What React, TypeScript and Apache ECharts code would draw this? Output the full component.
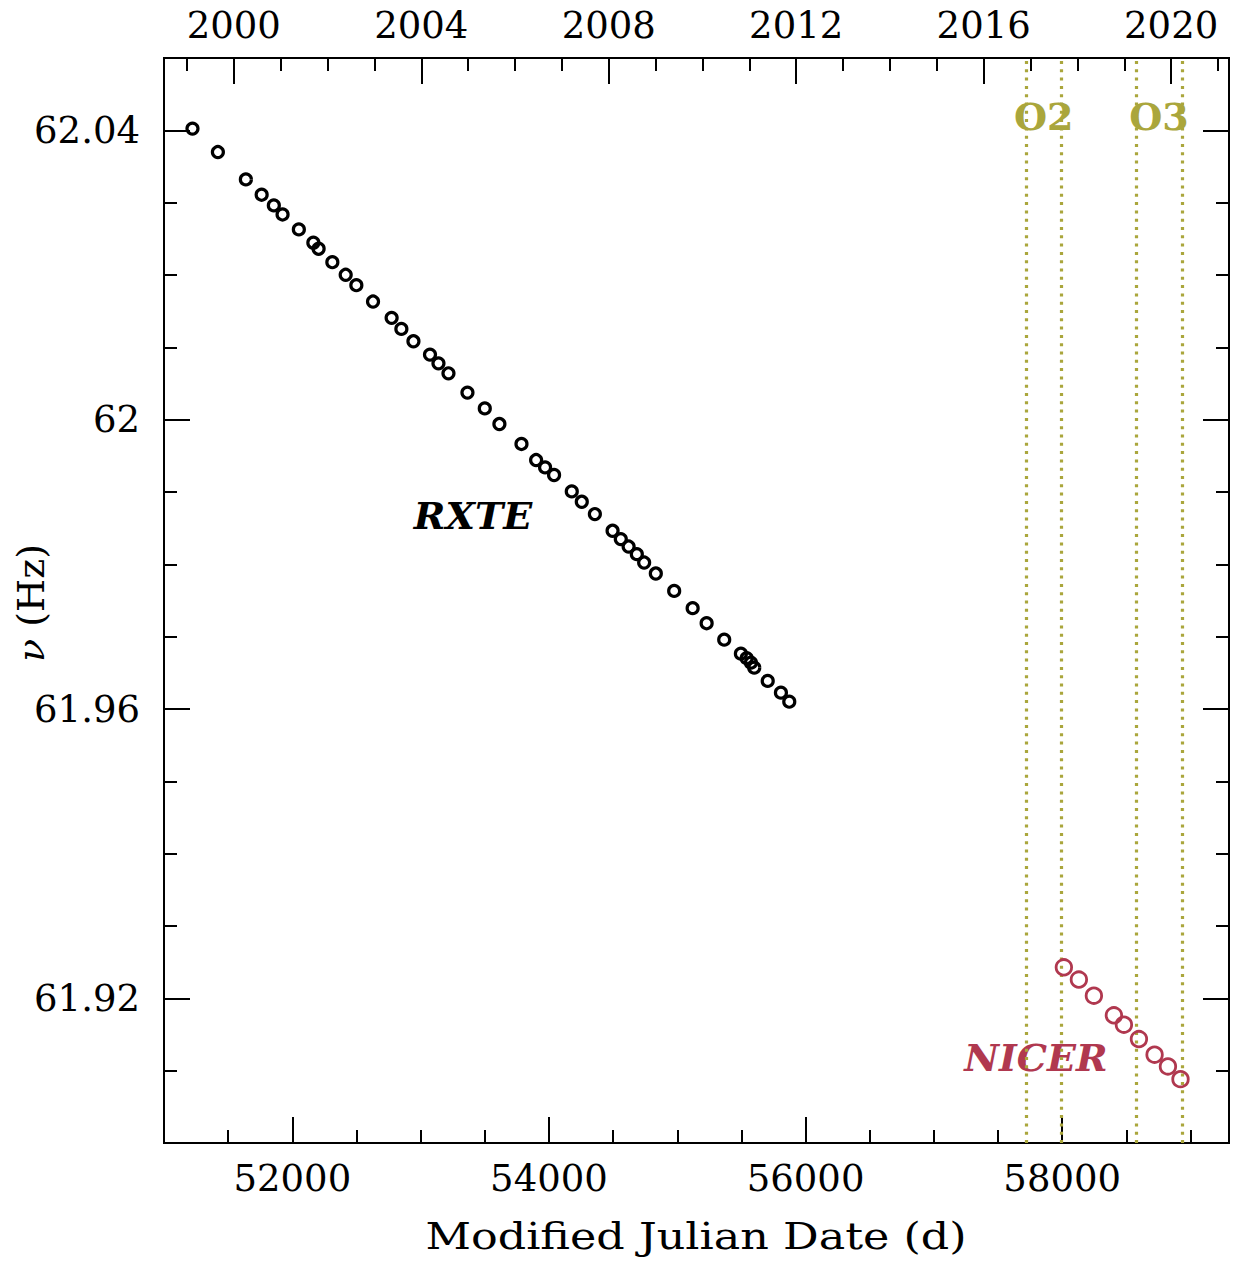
import React, { useEffect, useRef } from "react";
import * as echarts from "echarts";

const FONT = "DejaVu Serif";
const OLIVE = "#aaa63c";
const NICER_RED = "#b0384f";

const X_MIN = 51000;
const X_MAX = 59300;
const Y_MIN = 61.9;
const Y_MAX = 62.05;

const rxteMJD = [51222, 51420, 51638, 51761, 51856, 51924, 52051, 52164, 52205, 52312, 52416, 52499, 52629, 52774, 52850, 52944, 53073, 53139, 53217, 53365, 53500, 53614, 53786, 53900, 53970, 54040, 54178, 54256, 54358, 54496, 54560, 54621, 54685, 54742, 54833, 54976, 55120, 55229, 55366, 55496, 55541, 55574, 55600, 55705, 55808, 55873];
const rxteNu = [62.04024, 62.037, 62.03322, 62.0311, 62.02962, 62.02837, 62.0263, 62.02446, 62.02363, 62.02177, 62.02003, 62.01859, 62.01633, 62.01408, 62.01255, 62.01084, 62.009, 62.00779, 62.00641, 62.00374, 62.00156, 61.9994, 61.99664, 61.99442, 61.9934, 61.99235, 61.99008, 61.98865, 61.98695, 61.98464, 61.98349, 61.98246, 61.98141, 61.98025, 61.97873, 61.97633, 61.97394, 61.97186, 61.96959, 61.96765, 61.96702, 61.96641, 61.96572, 61.96388, 61.96226, 61.96101];

const nicerMJD = [58013, 58130, 58247, 58403, 58481, 58598, 58720, 58824, 58922];
const nicerNu = [61.92429, 61.92259, 61.92037, 61.91765, 61.91636, 61.91437, 61.91221, 61.91059, 61.90883];

const xMajorTicks = [52000, 54000, 56000, 58000];
const xMinorTicks = [51500, 52500, 53000, 53500, 54500, 55000, 55500, 56500, 57000, 57500, 58500, 59000];
const yMajorTicks = [61.92, 61.96, 62.0, 62.04];
const yMinorTicks = [61.91, 61.93, 61.94, 61.95, 61.97, 61.98, 61.99, 62.01, 62.02, 62.03];
const yearMajor = [2000, 2004, 2008, 2012, 2016, 2020];
const yearMinor = [1999, 2001, 2002, 2003, 2005, 2006, 2007, 2009, 2010, 2011, 2013, 2014, 2015, 2017, 2018, 2019, 2021];

const runNames = ["O2", "O3"];
const runStart = [57722, 58574];
const runEnd = [57990, 58935];

const mjdOfYear = (y: number) => Date.UTC(y, 0, 1) / 86400000 + 40587;
const yearOfMjd = (m: number) => Math.round(2000 + (m - 51544) / 365.25);

const MAJOR_LEN = 26;
const MINOR_LEN = 13;

function tickAxis(position: string, values: number[], len: number, min: number, max: number, extra: any = {}) {
  return {
    type: "value",
    position,
    min,
    max,
    axisLine: { show: false },
    axisTick: {
      show: true,
      inside: true,
      length: len,
      customValues: values,
      lineStyle: { color: "#000", width: 2 },
    },
    axisLabel: { show: false },
    splitLine: { show: false },
    ...extra,
  };
}

const labelStyle = { fontFamily: FONT, fontSize: 37, color: "#000" };

export default function App() {
  const ref = useRef<HTMLDivElement>(null);
  useEffect(() => {
    document.body.style.margin = "0";
    const chart = echarts.init(ref.current!, undefined, { renderer: "svg" });
    const rxte = rxteMJD.map((m, i) => [m, rxteNu[i]]);
    const nicer = nicerMJD.map((m, i) => [m, nicerNu[i]]);
    const option: any = {
      animation: false,
      backgroundColor: "#fff",
      grid: {
        left: 164,
        right: 12,
        top: 58,
        bottom: 120,
        show: true,
        borderColor: "#000",
        borderWidth: 2,
        backgroundColor: "transparent",
      },
      xAxis: [
        tickAxis("bottom", xMajorTicks, MAJOR_LEN, X_MIN, X_MAX, {
          axisLabel: {
            show: true,
            customValues: xMajorTicks,
            margin: 17,
            ...labelStyle,
            formatter: (v: number) => String(v),
          },
        }),
        tickAxis("bottom", xMinorTicks, MINOR_LEN, X_MIN, X_MAX),
        tickAxis("top", yearMajor.map(mjdOfYear), MAJOR_LEN, X_MIN, X_MAX, {
          axisLabel: {
            show: true,
            customValues: yearMajor.map(mjdOfYear),
            margin: 14,
            ...labelStyle,
            formatter: (v: number) => String(yearOfMjd(v)),
          },
        }),
        tickAxis("top", yearMinor.map(mjdOfYear), MINOR_LEN, X_MIN, X_MAX),
      ],
      yAxis: [
        tickAxis("left", yMajorTicks, MAJOR_LEN, Y_MIN, Y_MAX, {
          axisLabel: {
            show: true,
            customValues: yMajorTicks,
            margin: 24,
            ...labelStyle,
            formatter: (v: number) => String(+(+v).toFixed(2)),
          },
        }),
        tickAxis("left", yMinorTicks, MINOR_LEN, Y_MIN, Y_MAX),
        tickAxis("right", yMajorTicks, MAJOR_LEN, Y_MIN, Y_MAX),
        tickAxis("right", yMinorTicks, MINOR_LEN, Y_MIN, Y_MAX),
      ],
      series: [
        {
          name: "RXTE",
          type: "scatter",
          xAxisIndex: 0,
          yAxisIndex: 0,
          data: rxte,
          symbol: "circle",
          symbolSize: 11,
          itemStyle: { color: "rgba(0,0,0,0)", borderColor: "#000", borderWidth: 3.2, opacity: 1 },
          z: 5,
        },
        {
          name: "NICER",
          type: "scatter",
          xAxisIndex: 0,
          yAxisIndex: 0,
          data: nicer,
          symbol: "circle",
          symbolSize: 15.5,
          itemStyle: { color: "rgba(0,0,0,0)", borderColor: NICER_RED, borderWidth: 2.8, opacity: 1 },
          z: 5,
          markLine: {
            silent: true,
            symbol: ["none", "none"],
            label: { show: false },
            lineStyle: { color: OLIVE, width: 3.2, type: [3, 5.3], opacity: 1 },
            data: [...runStart, ...runEnd].map((v) => ({ xAxis: v })),
          },
          markArea: {
            silent: true,
            itemStyle: { color: "rgba(0,0,0,0)" },
            label: {
              show: true,
              position: "insideTop",
              distance: 39,
              color: OLIVE,
              fontFamily: FONT,
              fontSize: 38,
              fontWeight: "bold",
            },
            data: runNames.map((n, i) => [
              { name: n, xAxis: runStart[i] },
              { xAxis: runEnd[i] },
            ]),
          },
        },
      ],
      graphic: [
        {
          type: "text",
          x: 473,
          y: 515,
          style: {
            text: "RXTE",
            fill: "#000",
            font: `italic bold 38px "${FONT}"`,
            align: "center",
            verticalAlign: "middle",
          },
        },
        {
          type: "text",
          x: 1036,
          y: 1057,
          style: {
            text: "NICER",
            fill: NICER_RED,
            font: `italic bold 38px "${FONT}"`,
            align: "center",
            verticalAlign: "middle",
          },
        },
        {
          type: "text",
          x: 696,
          y: 1236,
          scaleX: 1.17,
          style: {
            text: "Modified Julian Date (d)",
            fill: "#000",
            font: `38px "${FONT}"`,
            align: "center",
            verticalAlign: "middle",
          },
        },
        {
          type: "text",
          x: 31,
          y: 603,
          rotation: Math.PI / 2,
          style: {
            text: "{i|ν} (Hz)",
            fill: "#000",
            font: `38px "${FONT}"`,
            align: "center",
            verticalAlign: "middle",
            rich: { i: { fontStyle: "italic", fontFamily: FONT, fontSize: 38, fill: "#000" } },
          },
        },
      ],
    };
    chart.setOption(option);
    return () => chart.dispose();
  }, []);
  return <div ref={ref} style={{ width: 1241, height: 1263 }} />;
}
